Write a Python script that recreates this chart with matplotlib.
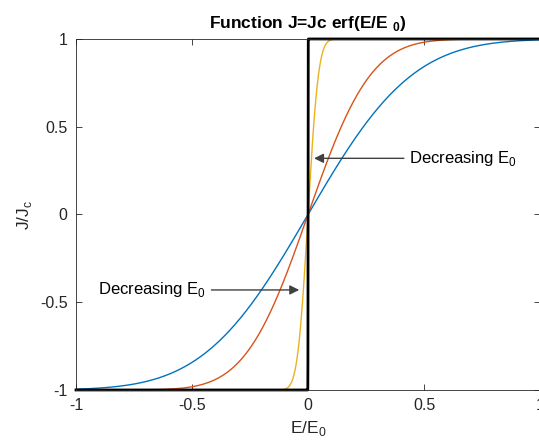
# erf curves J = Jc erf(E/E0) for several E0

import math
import numpy as np
import matplotlib.pyplot as plt

plt.rcParams['font.family'] = ['Liberation Sans', 'DejaVu Sans']
plt.rcParams['axes.unicode_minus'] = False
plt.rcParams['mathtext.fontset'] = 'custom'
plt.rcParams['mathtext.rm'] = 'Liberation Sans'
plt.rcParams['mathtext.bf'] = 'Liberation Sans:bold'

e0_values = [0.5, 0.3, 0.05, 0.0005]
line_colors = ['#0072BD', '#D95319', '#EDB120', 'black']
line_widths = [1.0, 1.0, 1.0, 2.0]
tick_vals = [-1, -0.5, 0, 0.5, 1]
tick_labels = ['-1', '-0.5', '0', '0.5', '1']

erf = np.vectorize(math.erf)
E = np.linspace(-1, 1, 4001)

fig = plt.figure(figsize=(5.39, 4.48), dpi=100)
ax = fig.add_axes([0.141, 0.1295, 0.861, 0.7835])

for e0, c, lw in zip(e0_values, line_colors, line_widths):
    ax.plot(E, erf(E / e0), color=c, linewidth=lw, clip_on=False)

ax.set_xlim(-1, 1)
ax.set_ylim(-1, 1)
ax.set_xticks(tick_vals)
ax.set_xticklabels(tick_labels)
ax.set_yticks(tick_vals)
ax.set_yticklabels(tick_labels)
ax.tick_params(direction='in', top=True, right=True, labelsize=11.5,
               colors='#262626', length=4, width=0.6, pad=6)
for s in ax.spines.values():
    s.set_linewidth(0.6)
    s.set_color('#262626')

ax.set_title('Function J=Jc erf(E/E $_\\mathbf{0}$)', fontsize=12.5,
             fontweight='bold', pad=8)
ax.set_xlabel('E/E$_\\mathregular{0}$', fontsize=12.5, color='#262626')
ax.set_ylabel('J/J$_\\mathregular{c}$', fontsize=12.5, color='#262626')

arrow = dict(arrowstyle='-|>', color='#404040', lw=1.0,
             mutation_scale=14, shrinkA=2, shrinkB=0)
ax.annotate('Decreasing E$_\\mathregular{0}$', xy=(0.026, 0.32),
            xytext=(0.437, 0.32), ha='left', va='center', fontsize=12,
            arrowprops=arrow)
ax.annotate('Decreasing E$_\\mathregular{0}$', xy=(-0.038, -0.43),
            xytext=(-0.906, -0.43), ha='left', va='center', fontsize=12,
            arrowprops=arrow)

fig.savefig('out.png', dpi=100)
